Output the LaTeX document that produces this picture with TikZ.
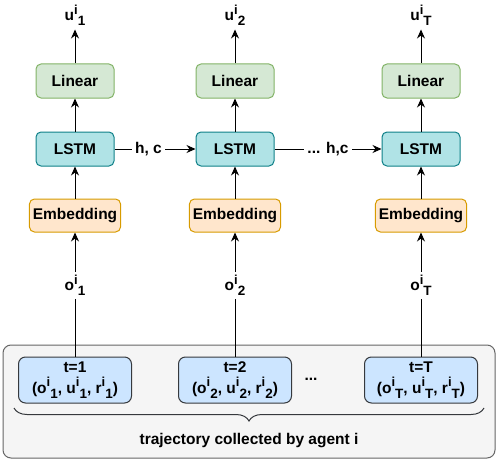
\documentclass[tikz,border=0pt]{standalone}
\usepackage{fontspec}
\setmainfont{Liberation Sans}
\usepackage{tikz}
\usetikzlibrary{arrows.meta,positioning,decorations.pathreplacing}
\usetikzlibrary{shapes.geometric, arrows}

\definecolor{linFill}{HTML}{D5E8D4}
\definecolor{linDraw}{HTML}{82B366}
\definecolor{lstmFill}{HTML}{B0E3E6}
\definecolor{lstmDraw}{HTML}{0E8088}
\definecolor{embFill}{HTML}{FFE6CC}
\definecolor{embDraw}{HTML}{D79B00}
\definecolor{stepFill}{HTML}{CCE5FF}
\definecolor{stepDraw}{HTML}{36393D}
\definecolor{panelFill}{HTML}{F5F5F5}
\definecolor{panelDraw}{HTML}{666666}

% superscript and subscript side by side
\newcommand{\supsub}[2]{\raisebox{6.5pt}{\fontsize{13}{13}\selectfont #1}\raisebox{-5pt}{\fontsize{13.5}{13.5}\selectfont #2}}

\begin{document}
\begin{tikzpicture}[x=1pt, y=-1pt, node distance=68pt, font=\fontsize{15.5}{19}\selectfont\bfseries]
	\tikzstyle{linear} = [rectangle, rounded corners=5pt, minimum width=78pt, 
	minimum height=34pt, text centered, line width=1pt, draw=linDraw, fill=linFill]
	\tikzstyle{lstm} = [rectangle, rounded corners=5pt, minimum width=78pt, 
	minimum height=34pt, text centered, line width=1pt, draw=lstmDraw, fill=lstmFill]
	\tikzstyle{embed} = [rectangle, rounded corners=5pt, minimum width=90pt, 
	minimum height=33pt, text centered, line width=1pt, draw=embDraw, fill=embFill]
	\tikzstyle{sample} = [rectangle, rounded corners=7pt, minimum width=113pt, 
	minimum height=46pt, inner sep=2pt, align=center, line width=1pt, draw=stepDraw, 
	fill=stepFill, font=\fontsize{15.5}{21}\selectfont\bfseries]
	\tikzstyle{panel} = [rectangle, rounded corners=8pt, minimum width=492pt, 
	minimum height=113pt, line width=1pt, draw=panelDraw, fill=panelFill]
	\tikzstyle{memo} = [fill=white, inner sep=3pt]
	\tikzstyle{arrow} = [line width=1pt, -{Stealth[length=9pt, width=8pt]}]
	\tikzstyle{line} = [line width=1pt]
	\tikzstyle{brace} = [line width=1pt, draw=stepDraw, decorate, 
	decoration={brace, mirror, amplitude=13pt}]
	\useasboundingbox (0,0) rectangle (498,460);
	\node (panel) [panel] at (249,401.5) {};
	\node (lstmA) [lstm] at (75,149) {LSTM};
	\node (lstmB) [lstm] at (235,149) {LSTM};
	\node (lstmC) [lstm] at (421,149) {LSTM};
	\node (linA) [linear, above of=lstmA] {Linear};
	\node (linB) [linear, above of=lstmB] {Linear};
	\node (linC) [linear, above of=lstmC] {Linear};
	\node (embA) [embed, below of=lstmA, yshift=1.5pt] {Embedding};
	\node (embB) [embed, below of=lstmB, yshift=1.5pt] {Embedding};
	\node (embC) [embed, below of=lstmC, yshift=1.5pt] {Embedding};
	\node (uA) [above of=linA, yshift=-2.5pt] {u\supsub{i}{1}};
	\node (uB) [above of=linB, yshift=-2.5pt] {u\supsub{i}{2}};
	\node (uC) [above of=linC, yshift=-2.5pt] {u\supsub{i}{T}};
	\node (obsA) [below of=embA, yshift=-2pt] {o\supsub{i}{1}};
	\node (obsB) [below of=embB, yshift=-2pt] {o\supsub{i}{2}};
	\node (obsC) [below of=embC, yshift=-2pt] {o\supsub{i}{T}};
	\node (stepA) [sample] at (75,380) {t=1\\(o\supsub{i}{1}, u\supsub{i}{1}, r\supsub{i}{1})};
	\node (stepB) [sample] at (235,380) {t=2\\(o\supsub{i}{2}, u\supsub{i}{2}, r\supsub{i}{2})};
	\node (stepC) [sample] at (421,380) {t=T\\(o\supsub{i}{T}, u\supsub{i}{T}, r\supsub{i}{T})};
	\node (gap) at (311,379) {...};
	\node (caption) at (249,441) {trajectory collected by agent i};
	\coordinate (braceL) at (14,408);
	\coordinate (braceR) at (484,408);
	\draw [arrow] (linA) -- (uA);
	\draw [arrow] (linB) -- (uB);
	\draw [arrow] (linC) -- (uC);
	\draw [arrow] (lstmA) -- (linA);
	\draw [arrow] (lstmB) -- (linB);
	\draw [arrow] (lstmC) -- (linC);
	\draw [arrow] (embA) -- (lstmA);
	\draw [arrow] (embB) -- (lstmB);
	\draw [arrow] (embC) -- (lstmC);
	\draw [arrow] (obsA) -- (embA);
	\draw [arrow] (obsB) -- (embB);
	\draw [arrow] (obsC) -- (embC);
	\draw [line] (stepA) -- (obsA);
	\draw [line] (stepB) -- (obsB);
	\draw [line] (stepC) -- (obsC);
	\draw [arrow] (lstmA) -- node [memo, pos=0.42] {h, c} (lstmB);
	\draw [arrow] (lstmB) -- node [memo] {... h,c} (lstmC);
	\draw [brace] (braceL) -- (braceR);
\end{tikzpicture}
\end{document}
